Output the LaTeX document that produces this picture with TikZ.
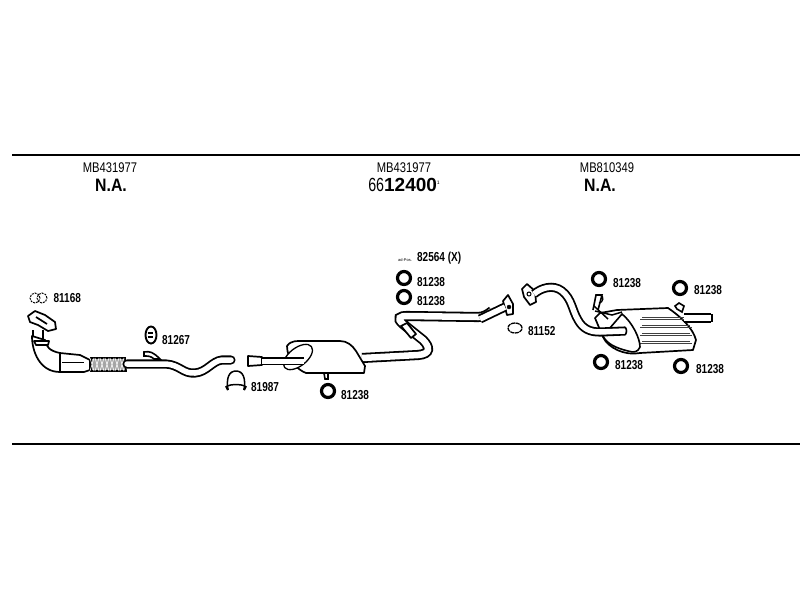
\documentclass[tikz,border=0pt]{standalone}
\usepackage{fontspec}
\setmainfont{Liberation Sans}
\usetikzlibrary{positioning,calc,shapes.geometric}
\tikzset{>=stealth}
\tikzset{
  partno/.style={font=\bfseries\fontsize{13}{13}\selectfont,xscale=0.77,inner sep=0pt,anchor=west},
  oemno/.style={font=\fontsize{14}{14}\selectfont,xscale=0.8,inner sep=0pt},
  bigno/.style={font=\bfseries\fontsize{18}{18}\selectfont,xscale=0.88,inner sep=0pt},
  oring/.style={draw,circle,line width=3.2pt,minimum size=13pt,inner sep=0pt},
  pipe/.style={line width=1.8pt,double=white,double distance=#1},
  body/.style={draw,fill=white,line width=1.7pt,line join=round},
  rib/.style={line width=.9pt,black!75},
  rule/.style={line width=1.4pt}
}
\begin{document}
\begin{tikzpicture}[x=1pt,y=-1pt]
\useasboundingbox (0,0) rectangle (800,600);
\fill[white] (0,0) rectangle (800,600);
% rules
\coordinate (top1) at (12,155);
\coordinate (top2) at (800,155);
\coordinate (bot1) at (12,444);
\coordinate (bot2) at (800,444);
\draw[rule] (top1) -- (top2);
\draw[rule] (bot1) -- (bot2);
% headings
\node[oemno] (oem1) at (110,168) {MB431977};
\node[oemno] (oem2) at (404,168) {MB431977};
\node[oemno] (oem3) at (607,168) {MB810349};
\node[bigno] (na1) at (111,185) {N.A.};
\node[bigno] (na3) at (600,185) {N.A.};
\node[inner sep=0pt,font=\fontsize{19}{19}\selectfont] (main) at (404,185) {\scalebox{0.75}[1]{66}\textbf{12400}\raisebox{7pt}{\fontsize{5}{5}\selectfont 1}};
% front pipe
\draw[line width=1.7pt] (33,330) -- (33,342) (43,330) -- (43,342);
\draw[body] (32,336) .. controls (32,352) and (40,372) .. (60,372) -- (84,372) -- (90,370) -- (90,360) -- (80,355) -- (60,353) .. controls (50,351) and (46,347) .. (45,340) -- cycle;
\draw[line width=1.3pt] (60,353) -- (60,372);
\draw[line width=1pt] (62,362) -- (84,362);
\draw[body] (34,341) -- (49,341) -- (48,345) -- (36,345) -- cycle;
\draw[body] (28,316) -- (35,311) -- (45,315) -- (55,322) -- (56,329) -- (48,331) -- (38,325) -- (30,322) -- cycle;
\draw[line width=1.7pt] (36,317) -- (47,324);
\draw[fill=gray!70,line width=1.7pt] (91,358) -- (125,358) -- (126,371) -- (91,371) -- cycle;
\foreach \i in {94,99,...,124} {
  \draw[white,line width=.6pt] (\i,358) -- ++(-4,13);
  \draw[white,line width=.6pt] (\i-4,358) -- ++(4,13);
}
\draw[pipe=5.5pt,line cap=round] (127,364) -- (166,364) .. controls (180,365) and (183,374) .. (195,373) .. controls (207,372) and (212,361) .. (222,360) -- (231,360);
\draw[line width=1.6pt,fill=white] (144,352) .. controls (150,351) and (153,352) .. (160,359) -- (154,359) .. controls (151,356) and (148,356) .. (144,356) -- cycle;
% centre silencer
\draw[pipe=5pt] (250,361) -- (302,361);
\draw[body] (248,356) -- (262,357) -- (262,365) -- (248,366) -- cycle;
\draw[pipe=6.5pt] (362,358) -- (418,355) .. controls (431,354) and (430,347) .. (423,340) -- (403,324) .. controls (396,318) and (400,316) .. (407,316) -- (478,317) .. controls (484,317) and (488,314) .. (492,311);
\draw[body] (401,326) -- (407,323) -- (416,334) -- (411,338) -- cycle;
\draw[body] (287,346) .. controls (291,340) and (298,341) .. (304,341) -- (340,341) .. controls (347,341) and (352,345) .. (356,351) -- (365,366) -- (364,373) -- (322,373) -- (306,373) .. controls (298,370) and (287,360) .. (287,346) -- cycle;
\draw[line width=1.3pt,fill=white,rotate around={38:(298,357)}] (298,357) ellipse[x radius=17pt,y radius=9pt];
\draw[pipe=5pt] (262,361) -- (304,361);
\draw[line width=1.6pt,fill=white] (324,373) -- (328,373) -- (328,379) -- (325,379) -- cycle;
% rear silencer
\draw[body] (503,301) -- (508,295) -- (513,304) -- (513,314) -- (507,315) -- cycle;
\draw[pipe=5.5pt] (480,319) -- (505,307);
\draw[fill=black] (509,307) circle[radius=2pt];
\draw[body] (522,289) -- (527,284) -- (535,291) -- (536,302) -- (530,305) -- (524,297) -- cycle;
\draw[fill=white,line width=1pt] (529,294) circle[radius=2pt];
\draw[body] (617,310) -- (668,308) .. controls (680,316) and (693,328) .. (696,340) -- (693,350) -- (640,353) .. controls (625,356) and (608,348) .. (603,337) -- (595,318) -- (600,313) -- cycle;
\foreach \yy in {317,325,333,341} {
  \draw[rib] (642,\yy) -- (690,\yy);
  \draw[rib] (640,\yy+2.5) -- (692,\yy+2.5);
}
\draw[line width=1.6pt,fill=white] (622,314) .. controls (632,322) and (640,338) .. (640,347) .. controls (638,352) and (634,353) .. (628,351) .. controls (616,348) and (607,344) .. (603,336) -- cycle;
\draw[pipe=5.5pt] (534,294) .. controls (541,288) and (553,284) .. (562,291) .. controls (572,299) and (572,310) .. (578,320) .. controls (583,329) and (590,332) .. (600,332) -- (625,331);
\draw[line width=1.6pt] (625,327) .. controls (627,329) and (627,333) .. (625,335);
\draw[pipe=5.5pt] (684,318) -- (711,318);
\draw[line width=1.6pt] (712,314) -- (712,322);
\draw[line width=1.6pt,fill=white] (593,310) -- (596,295) -- (602,295) -- (598,310);
\draw[line width=1.2pt] (600,295) .. controls (605,296) and (603,303) .. (599,303);
\draw[line width=1.5pt] (595,311) -- (612,315) -- (622,312);
\draw[line width=1.5pt] (594,306) -- (608,319);
\draw[line width=1.6pt,fill=white] (677,309) -- (675,306) -- (679,303) -- (684,306) -- (682,312) -- cycle;
% parts
\node[draw,circle,dash pattern=on 2pt off 1pt,line width=1pt,minimum size=10pt,inner sep=0pt] (gasket1) at (35,298) {};
\node[draw,circle,dash pattern=on 2pt off 1pt,line width=1pt,minimum size=10pt,inner sep=0pt] (gasket2) at (42,298) {};
\node[partno,right=6pt of gasket2] (t81168) {81168};
\node[draw,ellipse,line width=1.9pt,minimum width=11pt,minimum height=17pt,inner sep=0pt] (hanger) at (151,335) {};
\draw[line width=1.6pt] (hanger.west) ++(3,-2) -- ++(5,0) (hanger.west) ++(3,2) -- ++(5,0);
\node[partno] (t81267) at (162,340) {81267};
\coordinate (clampl) at (228,390);
\coordinate (clampr) at (244,390);
\draw[line width=1.5pt] (clampl) .. controls (226,378) and (229,371) .. (236,371) .. controls (243,371) and (246,378) .. (244,390);
\draw[line width=1.5pt] (227,386) .. controls (232,384) and (240,384) .. (245,386);
\draw[line width=2.2pt] (226,386) -- (clampl) (246,386) -- (clampr);
\node[partno] (t81987) at (251,387) {81987};
\node[font=\fontsize{4}{4}\selectfont,inner sep=0pt] (tinyno) at (405,260) {ad-Pos.};
\node[partno] (t82564) at (417,258) {82564 (X)};
\node[oring] (r1) at (404,278) {};
\node[partno] (t1) at (417,282) {81238};
\node[oring] (r2) at (404,297) {};
\node[partno] (t2) at (417,301) {81238};
\node[oring] (r3) at (328,391) {};
\node[partno] (t3) at (341,395) {81238};
\node[draw,ellipse,line width=1.3pt,dash pattern=on 4pt off .7pt,minimum width=14pt,minimum height=10pt,inner sep=0pt] (gasket3) at (515,328) {};
\node[partno] (t81152) at (528,331) {81152};
\node[oring] (r4) at (599,279) {};
\node[partno] (t4) at (613,283) {81238};
\node[oring] (r5) at (680,288) {};
\node[partno] (t5) at (694,290) {81238};
\node[oring] (r6) at (601,362) {};
\node[partno] (t6) at (615,365) {81238};
\node[oring] (r7) at (681,366) {};
\node[partno] (t7) at (696,369) {81238};
\end{tikzpicture}
\end{document}
